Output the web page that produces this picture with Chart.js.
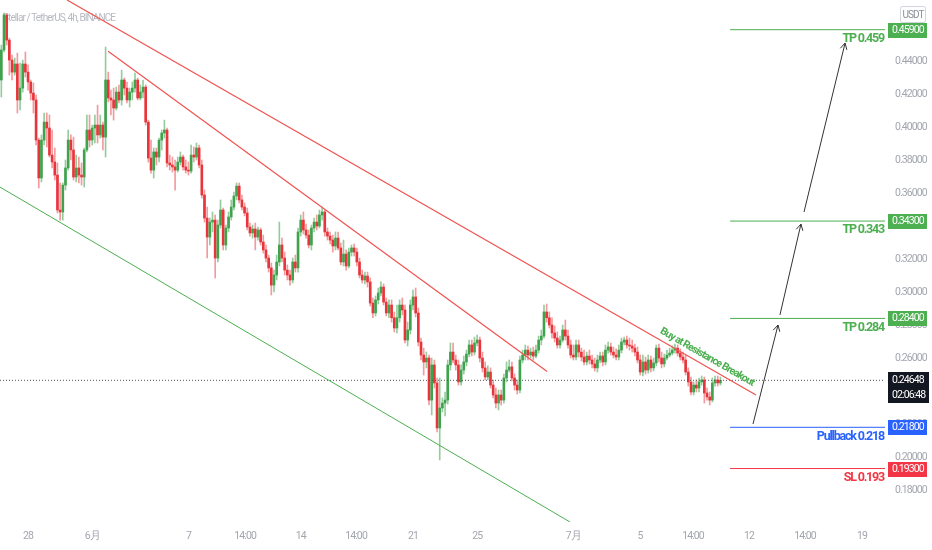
<!DOCTYPE html>
<html lang="zh">
<head>
<meta charset="UTF-8">
<title>XLM/USDT 4h</title>
<script src="https://cdn.jsdelivr.net/npm/chart.js"></script>
<style>
  html, body { margin: 0; padding: 0; background: #fff; }
  #wrap { position: relative; width: 932px; height: 550px; }
</style>
</head>
<body>
<div id="wrap"><canvas id="chart"></canvas></div>
<script>
const FONT = "Roboto, 'Noto Sans', sans-serif";
const UP = '#3fa34d', DOWN = '#e8353b';
const UP_WICK = 'rgba(63,163,77,0.55)', DOWN_WICK = 'rgba(232,53,59,0.5)';
const GREEN = '#4caf50', BLUE = '#2962ff', RED = '#f23645', LINE_RED = '#ef5350';

// x is days from 28 May 00:00; one candle every 4 h, first one 26 May 08:00
const firstCandle = -5 / 3;
const candleStep = 4 / 24;
const xMin = -1.75, xMax = 53.43;
const yMin = 0.1606, yMax = 0.4770;

const opens = [
  .4285,.4467,.4679,.4527,.4406,.4333,.4382,.4164,.4236,.4382,
  .4333,.4273,.4206,.4164,.3921,.3691,.3921,.4030,.3994,.3830,
  .3788,.3709,.3497,.3485,.3648,.3752,.3921,.3861,.3697,.3752,
  .3709,.3697,.3861,.3982,.3921,.3994,.4012,.3952,.4012,.3939,
  .4285,.4176,.4164,.4115,.4212,.4164,.4285,.4236,.4164,.4212,
  .4236,.4285,.4176,.4212,.4242,.4030,.3812,.3739,.3849,.3818,
  .3921,.3964,.3982,.3782,.3770,.3758,.3739,.3788,.3818,.3758,
  .3739,.3733,.3830,.3818,.3873,.3770,.3588,.3448,.3333,.3424,
  .3436,.3206,.3406,.3497,.3285,.3388,.3455,.3515,.3582,.3642,
  .3558,.3515,.3479,.3394,.3358,.3382,.3333,.3376,.3303,.3255,
  .3206,.3146,.3042,.3103,.3182,.3285,.3206,.3133,.3103,.3073,
  .3182,.3146,.3364,.3436,.3376,.3345,.3285,.3388,.3424,.3400,
  .3467,.3485,.3364,.3339,.3315,.3279,.3327,.3267,.3182,.3230,
  .3158,.3242,.3267,.3242,.3182,.3103,.3073,.3097,.3061,.2933,
  .2873,.2952,.2994,.3030,.2939,.2873,.2921,.2844,.2782,.2844,
  .2921,.2891,.2709,.2770,.2921,.2970,.2873,.2697,.2618,.2576,
  .2600,.2345,.2558,.2449,.2176,.2297,.2327,.2345,.2558,.2636,
  .2588,.2558,.2455,.2527,.2576,.2624,.2679,.2636,.2691,.2709,
  .2600,.2540,.2485,.2515,.2436,.2376,.2327,.2376,.2345,.2479,
  .2527,.2546,.2479,.2436,.2406,.2588,.2618,.2648,.2618,.2636,
  .2612,.2648,.2709,.2733,.2879,.2844,.2800,.2752,.2721,.2679,
  .2709,.2770,.2733,.2679,.2618,.2606,.2679,.2636,.2606,.2576,
  .2612,.2588,.2564,.2540,.2588,.2612,.2576,.2648,.2667,.2636,
  .2618,.2606,.2648,.2697,.2709,.2679,.2673,.2660,.2636,.2588,
  .2515,.2576,.2527,.2588,.2540,.2570,.2660,.2600,.2564,.2600,
  .2618,.2630,.2648,.2660,.2630,.2606,.2588,.2515,.2455,.2394,
  .2436,.2418,.2455,.2467,.2388,.2364,.2345,.2449,.2467,.2449
];
const highs = [
  .4497,.4691,.4685,.4539,.4436,.4418,.4448,.4388,.4406,.4455,
  .4376,.4285,.4267,.4194,.3933,.3952,.4085,.4085,.4073,.3982,
  .3873,.3782,.3661,.3661,.3800,.3982,.3952,.3939,.3830,.3818,
  .3782,.3873,.4073,.4073,.4012,.4073,.4133,.4073,.4030,.4485,
  .4333,.4224,.4236,.4242,.4255,.4345,.4297,.4273,.4236,.4273,
  .4327,.4297,.4255,.4285,.4255,.4042,.3921,.3873,.3873,.3933,
  .3982,.4042,.3994,.3830,.3818,.3800,.3818,.3849,.3830,.3800,
  .3788,.3891,.3879,.3903,.3891,.3800,.3618,.3515,.3448,.3485,
  .3467,.3436,.3558,.3509,.3406,.3485,.3558,.3606,.3661,.3661,
  .3588,.3540,.3509,.3418,.3406,.3418,.3394,.3388,.3345,.3285,
  .3224,.3176,.3133,.3224,.3424,.3327,.3242,.3164,.3133,.3206,
  .3224,.3388,.3467,.3485,.3412,.3376,.3406,.3448,.3467,.3497,
  .3515,.3497,.3388,.3364,.3345,.3364,.3364,.3297,.3315,.3255,
  .3267,.3285,.3291,.3267,.3206,.3133,.3121,.3121,.3085,.2964,
  .2976,.3024,.3061,.3049,.2964,.2952,.2952,.2879,.2921,.2952,
  .2964,.2921,.2818,.2952,.3012,.3024,.2903,.2721,.2660,.2636,
  .2618,.2600,.2588,.2479,.2479,.2358,.2394,.2588,.2691,.2691,
  .2618,.2588,.2558,.2612,.2648,.2709,.2709,.2727,.2739,.2727,
  .2636,.2576,.2552,.2540,.2467,.2418,.2406,.2406,.2503,.2576,
  .2588,.2576,.2503,.2467,.2612,.2648,.2679,.2673,.2660,.2667,
  .2679,.2733,.2770,.2921,.2927,.2879,.2844,.2794,.2758,.2733,
  .2800,.2830,.2770,.2709,.2679,.2709,.2709,.2660,.2648,.2636,
  .2648,.2618,.2600,.2618,.2636,.2636,.2679,.2697,.2691,.2667,
  .2655,.2679,.2721,.2727,.2733,.2721,.2709,.2685,.2667,.2618,
  .2618,.2606,.2618,.2612,.2600,.2679,.2685,.2636,.2624,.2648,
  .2660,.2673,.2685,.2679,.2655,.2636,.2618,.2540,.2485,.2455,
  .2467,.2479,.2491,.2485,.2418,.2394,.2479,.2491,.2491,.2485
];
const lows = [
  .4182,.4455,.4497,.4315,.4285,.4315,.4085,.4103,.4212,.4303,
  .4224,.4164,.4085,.3891,.3630,.3667,.3891,.3879,.3818,.3752,
  .3679,.3479,.3436,.3436,.3618,.3739,.3800,.3679,.3667,.3661,
  .3648,.3636,.3849,.3879,.3891,.3903,.3903,.3933,.3861,.3818,
  .4152,.4073,.4042,.4103,.4146,.4133,.4194,.4146,.4121,.4164,
  .4212,.4164,.4164,.4176,.4012,.3788,.3721,.3691,.3770,.3788,
  .3861,.3933,.3758,.3739,.3727,.3618,.3727,.3770,.3739,.3721,
  .3709,.3721,.3788,.3800,.3752,.3570,.3424,.3206,.3285,.3364,
  .3085,.3182,.3388,.3255,.3255,.3364,.3436,.3497,.3558,.3540,
  .3497,.3461,.3376,.3339,.3327,.3255,.3315,.3285,.3236,.3182,
  .3121,.2982,.3000,.3073,.3158,.3182,.3103,.3073,.3042,.3055,
  .3121,.3121,.3339,.3352,.3327,.3267,.3255,.3364,.3376,.3388,
  .3436,.3339,.3315,.3291,.3242,.3255,.3255,.3164,.3158,.3133,
  .3146,.3218,.3218,.3158,.3085,.3055,.3049,.3030,.2915,.2844,
  .2855,.2927,.2976,.2921,.2855,.2844,.2818,.2758,.2752,.2818,
  .2861,.2691,.2673,.2745,.2891,.2849,.2673,.2588,.2497,.2540,
  .2315,.2255,.2418,.2152,.1982,.2273,.2249,.2321,.2527,.2570,
  .2527,.2436,.2436,.2503,.2552,.2606,.2612,.2618,.2673,.2576,
  .2515,.2467,.2467,.2418,.2358,.2297,.2285,.2315,.2327,.2455,
  .2515,.2461,.2406,.2382,.2388,.2570,.2588,.2588,.2600,.2588,
  .2600,.2630,.2679,.2721,.2818,.2782,.2721,.2697,.2660,.2660,
  .2697,.2709,.2660,.2600,.2588,.2588,.2606,.2582,.2558,.2558,
  .2564,.2540,.2521,.2515,.2570,.2552,.2558,.2630,.2618,.2600,
  .2588,.2588,.2630,.2679,.2660,.2648,.2636,.2612,.2570,.2497,
  .2491,.2503,.2509,.2515,.2521,.2552,.2576,.2540,.2546,.2588,
  .2606,.2618,.2630,.2612,.2588,.2570,.2497,.2430,.2376,.2376,
  .2394,.2394,.2436,.2327,.2345,.2315,.2333,.2430,.2430,.2436
];
const closes = [
  .4467,.4679,.4527,.4406,.4333,.4382,.4164,.4236,.4382,.4333,
  .4273,.4206,.4164,.3921,.3691,.3921,.4030,.3994,.3830,.3788,
  .3709,.3497,.3485,.3648,.3752,.3921,.3861,.3697,.3752,.3709,
  .3697,.3861,.3982,.3921,.3994,.4012,.3952,.4012,.3939,.4285,
  .4176,.4164,.4115,.4212,.4164,.4285,.4236,.4164,.4212,.4236,
  .4285,.4176,.4212,.4242,.4030,.3812,.3739,.3849,.3818,.3921,
  .3964,.3982,.3782,.3770,.3758,.3739,.3788,.3818,.3758,.3739,
  .3733,.3830,.3818,.3873,.3770,.3588,.3448,.3333,.3424,.3436,
  .3206,.3406,.3497,.3285,.3388,.3455,.3515,.3582,.3642,.3558,
  .3515,.3479,.3394,.3358,.3382,.3333,.3376,.3303,.3255,.3206,
  .3146,.3042,.3103,.3182,.3285,.3206,.3133,.3103,.3073,.3182,
  .3146,.3364,.3436,.3376,.3345,.3285,.3388,.3424,.3400,.3467,
  .3485,.3364,.3339,.3315,.3279,.3327,.3267,.3182,.3230,.3158,
  .3242,.3267,.3242,.3182,.3103,.3073,.3097,.3061,.2933,.2873,
  .2952,.2994,.3030,.2939,.2873,.2921,.2844,.2782,.2844,.2921,
  .2891,.2709,.2770,.2921,.2970,.2873,.2697,.2618,.2576,.2600,
  .2345,.2558,.2449,.2176,.2297,.2327,.2345,.2558,.2636,.2588,
  .2558,.2455,.2527,.2576,.2624,.2679,.2636,.2691,.2709,.2600,
  .2540,.2485,.2515,.2436,.2376,.2327,.2376,.2345,.2479,.2527,
  .2546,.2479,.2436,.2406,.2588,.2618,.2648,.2618,.2636,.2612,
  .2648,.2709,.2733,.2879,.2844,.2800,.2752,.2721,.2679,.2709,
  .2770,.2733,.2679,.2618,.2606,.2679,.2636,.2606,.2576,.2612,
  .2588,.2564,.2540,.2588,.2612,.2576,.2648,.2667,.2636,.2618,
  .2606,.2648,.2697,.2709,.2679,.2673,.2660,.2636,.2588,.2515,
  .2576,.2527,.2588,.2540,.2570,.2660,.2600,.2564,.2600,.2618,
  .2630,.2648,.2660,.2630,.2606,.2588,.2515,.2455,.2394,.2436,
  .2418,.2455,.2467,.2388,.2364,.2345,.2449,.2467,.2449,.24648
];

const xTickPos = [0, 4, 10, 13.53, 17, 20.45, 24, 28, 34, 38.15, 41.46, 44.95, 48.44, 52];
const xTickLabels = ['28', '6月', '7', '14:00', '14', '14:00', '21', '25', '7月', '5', '14:00', '12', '14:00', '19'];
const yTicks = [0.18, 0.20, 0.22, 0.24, 0.26, 0.28, 0.30, 0.32, 0.34, 0.36, 0.38, 0.40, 0.42, 0.44, 0.46];

// drawn lines, [startDay, startPrice, endDay, endPrice]
const upperResistance = [2.43, 0.4770, 45.39, 0.2376];
const innerResistance = [4.99, 0.4460, 32.36, 0.2518];
const lowerSupport = [-1.75, 0.3636, 33.79, 0.1606];
const arrows = [
  [45.20, 0.2200, 46.76, 0.2800],
  [46.88, 0.2861, 48.19, 0.3412],
  [48.38, 0.3485, 50.94, 0.4509]
];

const levelStart = 43.77;
const levelValues = [0.459, 0.343, 0.284, 0.218, 0.193];
const levelNames = ['TP 0.459', 'TP 0.343', 'TP 0.284', 'Pullback 0.218', 'SL 0.193'];
const levelColors = [GREEN, GREEN, GREEN, BLUE, RED];

const lastPrice = 0.24648;
const countdown = '02:06:48';
const breakoutNote = 'Buy at Resistance Breakout';
const breakoutAt = [42.33, 0.2606];

const candleX = opens.map((_, i) => firstCandle + i * candleStep);
const isUp = i => closes[i] >= opens[i];

function segment(s, color, extra) {
  return Object.assign({
    type: 'line',
    data: [{ x: s[0], y: s[1] }, { x: s[2], y: s[3] }],
    borderColor: color,
    borderWidth: 1,
    pointRadius: 0,
    fill: false,
    order: 0
  }, extra || {});
}

const datasets = [
  {
    type: 'bar',
    data: candleX.map((x, i) => ({ x: x, y: [lows[i], highs[i]] })),
    backgroundColor: c => isUp(c.dataIndex) ? UP_WICK : DOWN_WICK,
    barThickness: 1,
    grouped: false,
    order: 2
  },
  {
    type: 'bar',
    data: candleX.map((x, i) => ({ x: x, y: [opens[i], closes[i]] })),
    backgroundColor: c => isUp(c.dataIndex) ? UP : DOWN,
    barThickness: 2,
    minBarLength: 1,
    grouped: false,
    order: 1
  },
  segment(upperResistance, LINE_RED, { borderWidth: 1.2 }),
  segment(innerResistance, LINE_RED, { borderWidth: 1.2 }),
  segment(lowerSupport, GREEN),
  segment([xMin, lastPrice, xMax, lastPrice], '#555', { borderDash: [1, 2] })
];
levelValues.forEach((v, i) => datasets.push(segment([levelStart, v, xMax, v], levelColors[i])));
arrows.forEach(a => datasets.push(segment(a, '#333')));

const overlay = {
  id: 'overlay',
  beforeDraw(chart) {
    // the reference uses a narrow face; tighten all canvas text
    chart.ctx.letterSpacing = '-0.9px';
  },
  beforeDatasetsDraw(chart) {
    const ctx = chart.ctx;
    ctx.save();
    ctx.font = '10px ' + FONT;
    ctx.fillStyle = '#b7bac2';
    ctx.textBaseline = 'middle';
    ctx.fillText('Stellar / TetherUS, 4h, BINANCE', 3, 18);
    ctx.restore();
  },
  afterDatasetsDraw(chart) {
    const { ctx, chartArea } = chart;
    const x = chart.scales.x, y = chart.scales.y;
    ctx.save();

    // arrow heads
    ctx.strokeStyle = '#333';
    ctx.lineWidth = 1;
    arrows.forEach(a => {
      const x0 = x.getPixelForValue(a[0]), y0 = y.getPixelForValue(a[1]);
      const x1 = x.getPixelForValue(a[2]), y1 = y.getPixelForValue(a[3]);
      const ang = Math.atan2(y1 - y0, x1 - x0);
      ctx.beginPath();
      ctx.moveTo(x1 + 7 * Math.cos(ang + Math.PI - 0.5), y1 + 7 * Math.sin(ang + Math.PI - 0.5));
      ctx.lineTo(x1, y1);
      ctx.lineTo(x1 + 7 * Math.cos(ang + Math.PI + 0.5), y1 + 7 * Math.sin(ang + Math.PI + 0.5));
      ctx.stroke();
    });

    // level captions
    ctx.letterSpacing = '-1.2px';
    ctx.font = 'bold 12.5px ' + FONT;
    ctx.textAlign = 'right';
    ctx.textBaseline = 'top';
    levelValues.forEach((v, i) => {
      ctx.fillStyle = levelColors[i];
      ctx.fillText(levelNames[i], chartArea.right - 1, y.getPixelForValue(v) + 3);
    });

    // note along the resistance line
    const lx0 = x.getPixelForValue(upperResistance[0]), ly0 = y.getPixelForValue(upperResistance[1]);
    const lx1 = x.getPixelForValue(upperResistance[2]), ly1 = y.getPixelForValue(upperResistance[3]);
    ctx.translate(x.getPixelForValue(breakoutAt[0]), y.getPixelForValue(breakoutAt[1]));
    ctx.rotate(Math.atan2(ly1 - ly0, lx1 - lx0));
    ctx.letterSpacing = '-0.9px';
    ctx.font = 'bold 10.5px ' + FONT;
    ctx.fillStyle = GREEN;
    ctx.textAlign = 'center';
    ctx.textBaseline = 'middle';
    ctx.fillText(breakoutNote, 0, 0);
    ctx.restore();
  },
  afterDraw(chart) {
    const { ctx, chartArea } = chart;
    const y = chart.scales.y;
    const left = chartArea.right + 3;
    ctx.save();
    ctx.font = '10.5px ' + FONT;
    ctx.textBaseline = 'middle';
    ctx.textAlign = 'left';

    levelValues.forEach((v, i) => {
      const py = Math.round(y.getPixelForValue(v));
      ctx.fillStyle = levelColors[i];
      ctx.fillRect(left, py - 7, 39, 15);
      ctx.fillStyle = '#fff';
      ctx.fillText(v.toFixed(5), left + 4, py + 0.5);
    });

    const pp = Math.round(y.getPixelForValue(lastPrice));
    ctx.fillStyle = '#131722';
    ctx.fillRect(left, pp - 8, 41, 31);
    ctx.fillStyle = '#fff';
    ctx.fillText(lastPrice.toFixed(5), left + 4, pp);
    ctx.fillText(countdown, left + 4, pp + 15);

    // currency badge
    ctx.strokeStyle = '#d1d4dc';
    ctx.beginPath();
    ctx.roundRect(900.5, 6.5, 25, 16, 2);
    ctx.stroke();
    ctx.fillStyle = '#8a8d96';
    ctx.font = '10px ' + FONT;
    ctx.textAlign = 'center';
    ctx.fillText('USDT', 913, 15);
    ctx.restore();
  }
};

new Chart(document.getElementById('chart'), {
  type: 'bar',
  data: { datasets: datasets },
  options: {
    responsive: true,
    maintainAspectRatio: false,
    animation: false,
    events: [],
    layout: { padding: 0 },
    plugins: { legend: { display: false }, tooltip: { enabled: false } },
    scales: {
      x: {
        type: 'linear',
        min: xMin,
        max: xMax,
        offset: false,
        grid: { display: false, drawTicks: false },
        border: { display: false },
        afterBuildTicks: s => { s.ticks = xTickPos.map(v => ({ value: v })); },
        afterFit: s => { s.height = 28; s.paddingLeft = 0; s.paddingRight = 0; },
        ticks: {
          autoSkip: false,
          maxRotation: 0,
          padding: 8,
          color: '#a3a6af',
          font: { family: FONT, size: 10.5 },
          callback: (v, i) => xTickLabels[i]
        }
      },
      y: {
        type: 'linear',
        position: 'right',
        min: yMin,
        max: yMax,
        grid: { display: false, drawTicks: false },
        border: { display: false },
        afterBuildTicks: s => { s.ticks = yTicks.map(v => ({ value: v })); },
        afterFit: s => { s.width = 47; s.paddingTop = 0; s.paddingBottom = 0; },
        ticks: {
          padding: 10,
          color: '#a3a6af',
          font: { family: FONT, size: 10.5 },
          callback: v => v.toFixed(5)
        }
      }
    }
  },
  plugins: [overlay]
});
</script>
</body>
</html>
